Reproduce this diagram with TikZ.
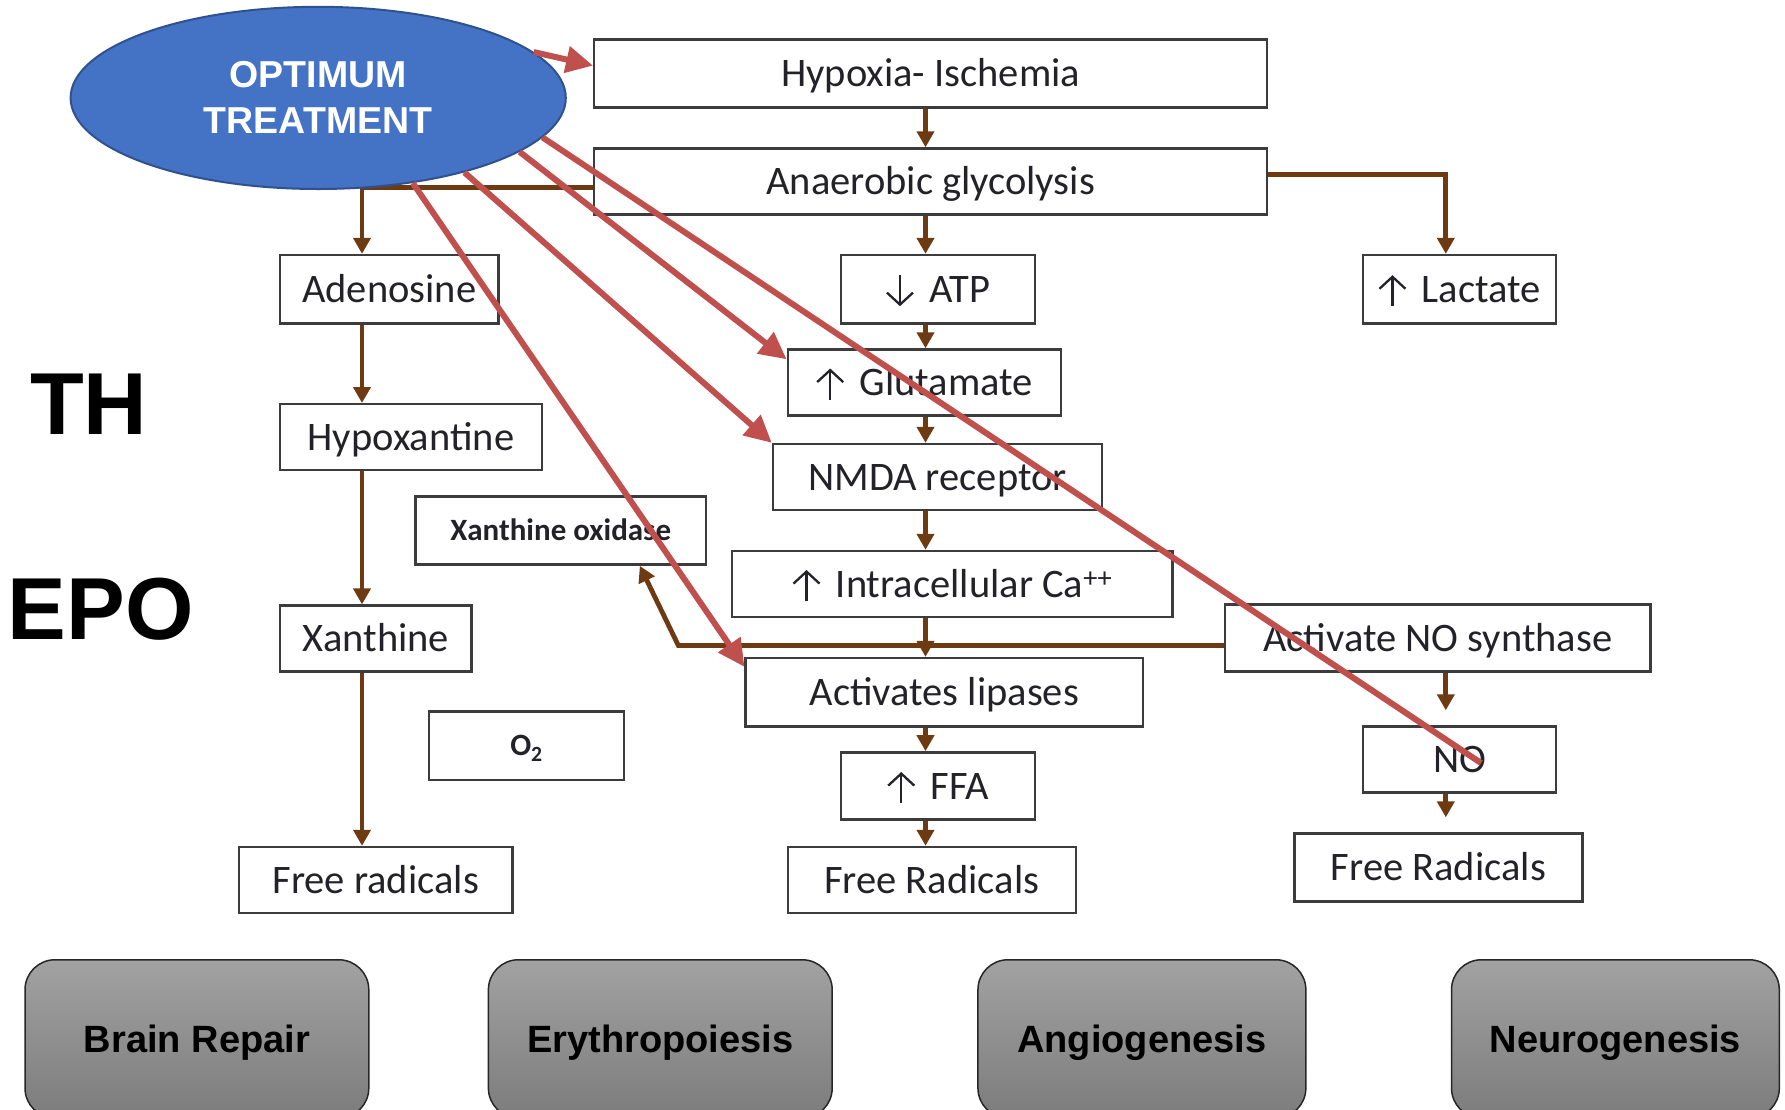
\documentclass[tikz,border=0pt]{standalone}
\usepackage{fontspec}
\setmainfont{Carlito}
\newfontfamily\arialfont{Liberation Sans}
\usetikzlibrary{arrows.meta,shapes.geometric,calc}

\definecolor{flowbrown}{RGB}{110,58,18}
\definecolor{treatred}{RGB}{192,80,77}
\definecolor{ovalblue}{RGB}{68,114,196}
\definecolor{ovaledge}{RGB}{47,82,143}
\definecolor{boxedge}{RGB}{60,60,60}
\definecolor{boxtext}{RGB}{34,34,40}
\definecolor{tiletop}{RGB}{162,162,162}
\definecolor{tilebottom}{RGB}{124,124,124}

% thin barbed arrows used inside the box labels
\newcommand{\arrUp}{\tikz[baseline=0pt]\draw[draw=boxtext, line width=2.3pt,
  -{Straight Barb[length=12pt,width=26pt,line width=2.3pt]}] (0pt,-4pt) -- (0pt,27pt);\hspace{6pt}}
\newcommand{\arrDown}{\tikz[baseline=0pt]\draw[draw=boxtext, line width=2.3pt,
  -{Straight Barb[length=12pt,width=26pt,line width=2.3pt]}] (0pt,27pt) -- (0pt,-4pt);\hspace{6pt}}

\tikzset{
  wh/.style 2 args={minimum width=#1pt, minimum height=#2pt},
  flowbox/.style={draw=boxedge, line width=2.4pt, fill=white, inner sep=0pt,
    text=boxtext, text height=26pt, text depth=0pt,
    font=\fontsize{40.5}{48}\selectfont},
  smallbox/.style={flowbox, text height=20pt,
    font=\fontsize{31}{36}\selectfont\bfseries},
  flow/.style={draw=flowbrown, line width=4.8pt, -{Triangle[length=16pt,width=17pt]}},
  treat/.style={draw=treatred, line width=6pt, -{Triangle[length=27pt,width=26pt]}},
  treatline/.style={draw=treatred, line width=6pt},
  tile/.style={draw=black!85, line width=1.5pt, rounded corners=30pt,
    top color=tiletop, bottom color=tilebottom, inner sep=0pt, text=black,
    text height=27pt, text depth=0pt,
    font=\arialfont\bfseries\fontsize{38}{44}\selectfont},
  bigword/.style={inner sep=0pt, text=black,
    font=\arialfont\bfseries\fontsize{88}{100}\selectfont},
}

\begin{document}
\begin{tikzpicture}[x=1pt,y=-1pt]
\useasboundingbox (0,0) rectangle (1785,1109);
\clip (0,0) rectangle (1785,1109);

% column guides for the vertical connectors
\coordinate (spine) at (925.5,0);
\coordinate (leftcol) at (362,0);
\coordinate (nocol) at (1445.8,0);

% pathway boxes
\node[flowbox, wh={672.9}{68.3}] (hyp)  at (930.7,73.5)  {Hypoxia- Ischemia};
\node[flowbox, wh={672.9}{66}]   (anae) at (930.7,181.5) {Anaerobic glycolysis};
\node[flowbox, wh={218.6}{68.3}] (ade)  at (389.3,289.2) {Adenosine};
\node[flowbox, wh={193.5}{68.3}] (atp)  at (938,289.2)   {\arrDown\ ATP};
\node[flowbox, wh={193.5}{68.3}] (lac)  at (1459.5,289.2){\arrUp\ Lactate};
\node[flowbox, wh={273.2}{66}]   (glu)  at (924.4,382.5) {\arrUp\ Glutamate};
\node[flowbox, wh={261.9}{66}]   (hx)   at (411,437.2)   {Hypoxantine};
\node[flowbox, wh={329}{66}]     (nmda) at (937.5,477)   {NMDA receptor};
\node[smallbox, wh={290.3}{68.3}] (xo)  at (560.7,530.5) {Xanthine oxidase};
\node[flowbox, wh={440.6}{66}]   (ca)   at (952.3,584)   {\arrUp\ Intracellular Ca\textsuperscript{++}};
\node[flowbox, wh={191.3}{66}]   (xan)  at (375.7,638.6) {Xanthine};
\node[flowbox, wh={425.7}{67.2}] (nos)  at (1437.8,638)  {Activate NO synthase};
\node[flowbox, wh={397.3}{68.3}] (lip)  at (944.3,692.2) {Activates lipases};
\node[smallbox, wh={194.6}{68.3}] (oxy) at (526.5,745.7) {O\textsubscript{2}};
\node[flowbox, wh={193.5}{67.2}] (ffa)  at (938,786)     {\arrUp\ FFA};
\node[flowbox, wh={193.5}{66}]   (no)   at (1459.5,759.3){NO};
\node[flowbox, wh={273.2}{66}]   (frl)  at (375.7,880)   {Free radicals};
\node[flowbox, wh={288}{66}]     (frm)  at (931.8,880)   {Free Radicals};
\node[flowbox, wh={288}{68.3}]   (frr)  at (1438.4,867.5){Free Radicals};

% central cascade
\draw[flow] (hyp.south -| spine)  -- (anae.north -| spine);
\draw[flow] (anae.south -| spine) -- (atp.north -| spine);
\draw[flow] (atp.south -| spine)  -- (glu.north -| spine);
\draw[flow] (glu.south -| spine)  -- (nmda.north -| spine);
\draw[flow] (nmda.south -| spine) -- (ca.north -| spine);
\draw[flow] (ca.south -| spine)   -- (lip.north -| spine);
\draw[flow] (lip.south -| spine)  -- (ffa.north -| spine);
\draw[flow] (ffa.south -| spine)  -- (frm.north -| spine);

% side branches
\draw[flow] ([yshift=7.3pt]anae.east) -| ([xshift=-13.7pt]lac.north);
\draw[flow] ([yshift=-6.3pt]anae.west) -| (ade.north -| leftcol);
\draw[flow] (ade.south -| leftcol) -- (hx.north -| leftcol);
\draw[flow] (hx.south -| leftcol)  -- (xan.north -| leftcol);
\draw[flow] (xan.south -| leftcol) -- (frl.north -| leftcol);
\draw[flow] ([yshift=-7.5pt]nos.west) -- ++(-545.4,0) -- ([xshift=79.1pt]xo.south);
\draw[flow, shorten >=14.8pt] (nos.south -| nocol) -- (no.north -| nocol);
\draw[flow, shorten >=14.8pt] (no.south -| nocol)  -- (frr.north -| nocol);

% treatment oval
\node[ellipse, draw=ovaledge, line width=2pt, fill=ovalblue, inner sep=0pt,
      minimum width=495.2pt, minimum height=182.2pt, align=center, text=white,
      font=\arialfont\bfseries\fontsize{37.5}{46}\selectfont] (opt) at (318.2,97.9)
      {OPTIMUM\\TREATMENT};

% treatment targets
\draw[treat] (opt.12.7) -- ([yshift=7.9pt]hyp.west);
\draw[treatline] (opt.-10.9) -- ([xshift=21.5pt,yshift=-3.7pt]no.center);
\draw[treat] (opt.-15.2) -- ([yshift=-11pt]glu.north west);
\draw[treat] (opt.-27.9) -- (nmda.north west);
\draw[treat] (opt.-42) -- ([yshift=-10pt]lip.north west);

% therapy labels
\node[bigword] (th)  at (88.8,404) {TH};
\node[bigword] (epo) at (100.8,609) {EPO};

% outcome tiles
\node[tile, wh={343.8}{158.3}] (repair) at (196.9,1038.9)  {Brain Repair};
\node[tile, wh={343.8}{158.3}] (ery)    at (660.3,1038.9)  {Erythropoiesis};
\node[tile, wh={327.9}{158.3}] (angio)  at (1141.9,1038.9) {Angiogenesis};
\node[tile, wh={327.8}{158.3}] (neuro)  at (1615.4,1038.9) {Neurogenesis};
\end{tikzpicture}
\end{document}
